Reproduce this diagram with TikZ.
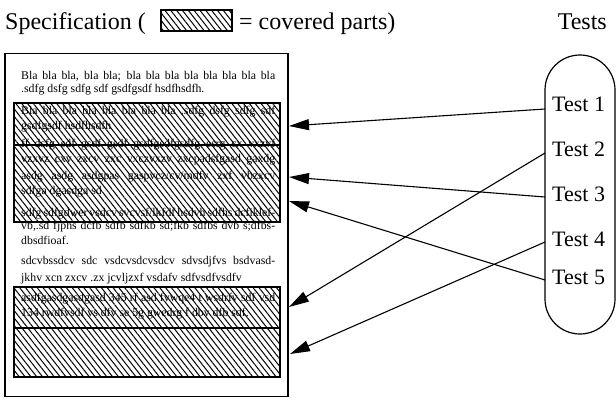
\documentclass[tikz,border=0pt]{standalone}
\usepackage{fontspec}
\setmainfont{Liberation Serif}
\usetikzlibrary{patterns.meta,arrows.meta}
\newcommand\jline[1]{\makebox[254pt][s]{#1}}
\begin{document}
\begin{tikzpicture}[x=1pt,y=-1pt,
  hatch/.style={draw=black, line width=1.2pt, pattern={Lines[angle=-52,distance=4.6pt,line width=1pt]}},
  txt/.style={anchor=base west, inner sep=0pt, font=\fontsize{11.8}{13}\selectfont},
  big/.style={inner sep=0pt, font=\fontsize{24}{27}\selectfont},
  testlbl/.style={anchor=west, inner sep=0pt, font=\fontsize{22}{24}\selectfont},
  link/.style={line width=1.1pt, -{Triangle[length=20pt,width=11pt]}}]
\useasboundingbox (0,0) rectangle (616,397);
% title
\node[big, anchor=base west] (title) at (5,29) {Specification (};
\node[hatch, minimum width=71pt, minimum height=21pt, inner sep=0pt] (legend) at (196.5,20.5) {};
\node[big, anchor=base west] (covered) at (239,29) {= covered parts)};
\node[big, anchor=base east] (tests) at (607,29) {Tests};
% page
\node[draw, line width=1.3pt, minimum width=283pt, minimum height=343pt, inner sep=0pt] (page) at (146.5,225) {};
% hatched boxes
\draw[hatch] (14,103) rectangle (280,145);
\draw[hatch] (14,145) rectangle (280,222);
\draw[hatch] (14,287) rectangle (280,328);
\draw[hatch] (14,328) rectangle (280,377);
% text
\node[txt] (a1) at (21,79) {\jline{Bla bla bla, bla bla; bla bla bla bla bla bla bla bla}};
\node[txt] (a2) at (21,92) {.sdfg dsfg sdfg sdf gsdfgsdf hsdfhsdfh.};
\node[txt] (b1) at (21,114) {\jline{Bla bla bla bla bla bla bla bla .sdfg dsfg sdfg sdf}};
\node[txt] (b2) at (21,129) {gsdfgsdf hsdfhsdfh};
\node[txt] (c1) at (21,147) {\jline{ff dsfg sdf gsdf gsdf gsdfgsdfgsdfg esrg cx vxzvf}};
\node[txt] (c2) at (21,162) {\jline{vzxvz cxv zxcv zxc vxczvxzv zxcpadsfgasd gaxdg}};
\node[txt] (c3) at (21,179) {\jline{asdg asdg asdgpas gaspvcz/cv/mdfv zxf vbzxcv}};
\node[txt] (c4) at (21,194) {sdfga dgasdga sd};
\node[txt] (d1) at (21,216) {\jline{sdfg sdfgdwer vsdcv svcvsf/lkfdf hsdvh sdfhs dcfiklef-}};
\node[txt] (d2) at (21,229) {\jline{vb,.sd fjphs dcfb sdfb sdfkb sd;fkb sdfbs dvb s;dfbs-}};
\node[txt] (d3) at (21,244) {dbsdfioaf.};
\node[txt] (e1t) at (21,264) {\jline{sdcvbssdcv sdc vsdcvsdcvsdcv sdvsdjfvs bsdvasd-}};
\node[txt] (e2t) at (21,281) {jkhv xcn zxcv .zx jcvljzxf vsdafv sdfvsdfvsdfv};
\node[txt] (f1) at (21,301) {\jline{asdfgasdgasdgasd 345 rf asd fvwqe4 t wsdrfv sdf vsd}};
\node[txt] (f2) at (21,316) {134 rwdfvsdf vs dfv se 5g gwedrg f dbv dfb sdf.};
% tests capsule
\node[draw, line width=1.2pt, rounded corners=35pt, minimum width=70pt, minimum height=279pt, inner sep=0pt] (caps) at (580,194.5) {};
\node[testlbl] (t1) at (552,104) {Test 1};
\node[testlbl] (t2) at (552,149) {Test 2};
\node[testlbl] (t3) at (552,194) {Test 3};
\node[testlbl] (t4) at (552,239) {Test 4};
\node[testlbl] (t5) at (552,277) {Test 5};
% connector ends
\coordinate (s1) at (545,109);
\coordinate (s2) at (545,153);
\coordinate (s3) at (545,197);
\coordinate (s4) at (545,242);
\coordinate (s5) at (545,280);
\coordinate (e1) at (289,126);
\coordinate (e2) at (289,307);
\coordinate (e3) at (289,177);
\coordinate (e4) at (290,354);
\coordinate (e5) at (289,201);
\draw[link] (s1) -- (e1);
\draw[link] (s2) -- (e2);
\draw[link] (s3) -- (e3);
\draw[link] (s4) -- (e4);
\draw[link] (s5) -- (e5);
\end{tikzpicture}
\end{document}
